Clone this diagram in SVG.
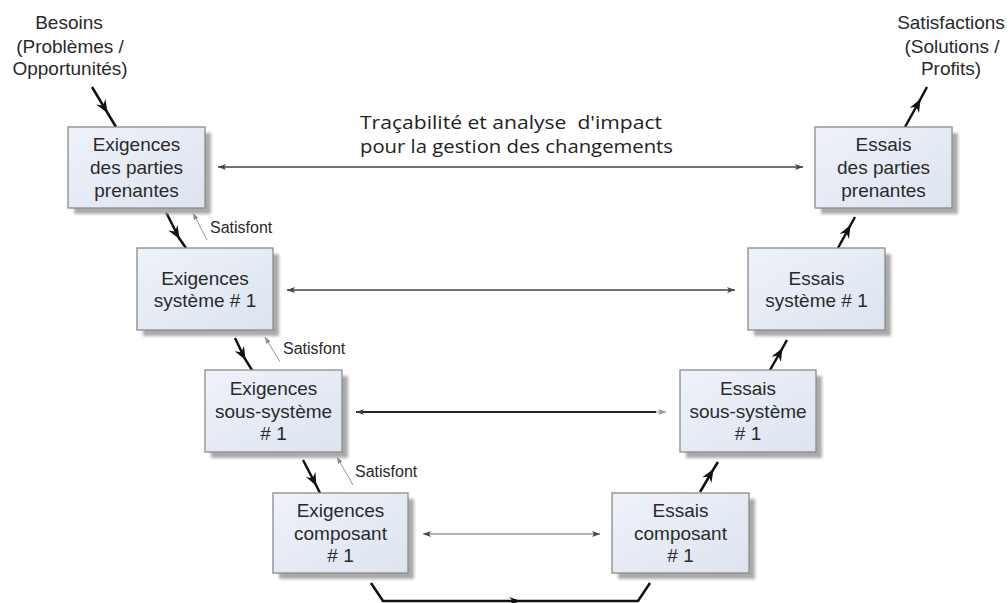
<svg xmlns="http://www.w3.org/2000/svg" width="1008" height="603" viewBox="0 0 1008 603">
<defs>
<linearGradient id="boxfill" x1="0" y1="0" x2="1" y2="1">
<stop offset="0" stop-color="#eef2f9"/>
<stop offset="1" stop-color="#dde4f0"/>
</linearGradient>
<filter id="blur" x="-10%" y="-10%" width="120%" height="120%"><feGaussianBlur stdDeviation="1.5"/></filter>
<marker id="mid" viewBox="0 0 12 10" refX="11" refY="5" markerWidth="13" markerHeight="11" markerUnits="userSpaceOnUse" orient="auto">
<path d="M0,0 L12,5 L0,10 L4,5 z" fill="#111"/>
</marker>
<marker id="tip" viewBox="0 0 8 6" refX="8" refY="3" markerWidth="8" markerHeight="6" markerUnits="userSpaceOnUse" orient="auto-start-reverse">
<path d="M0,0 L8,3 L0,6 L2,3 z" fill="#444"/>
</marker>
<marker id="tipg" viewBox="0 0 8 6" refX="8" refY="3" markerWidth="8" markerHeight="6" markerUnits="userSpaceOnUse" orient="auto-start-reverse">
<path d="M0,0 L8,3 L0,6 L2,3 z" fill="#999"/>
</marker>
<marker id="thin" viewBox="0 0 8 6" refX="8" refY="3" markerWidth="7" markerHeight="5" markerUnits="userSpaceOnUse" orient="auto-start-reverse">
<path d="M0,0 L8,3 L0,6 z" fill="#888"/>
</marker>
</defs>
<style>
.shadow{fill:#aaaaaa;filter:url(#blur)}
.box{fill:url(#boxfill);stroke:#8a8a8a;stroke-width:1.3}
.t{font-family:"Liberation Sans",Arial,sans-serif;font-size:19px;fill:#2a2a2a;text-anchor:middle}
.s{font-family:"Liberation Sans",Arial,sans-serif;font-size:16px;fill:#2a2a2a}
.title{font-family:"Open Sans",Lato,sans-serif;font-size:18.5px;fill:#222;white-space:pre}
.thick{fill:none;stroke:#111;stroke-width:2.5;marker-mid:url(#mid)}
.h{fill:none;stroke:#444;stroke-width:1.5;marker-start:url(#tip);marker-end:url(#tip)}
.sat{fill:none;stroke:#999;stroke-width:1;marker-start:url(#thin)}
</style>

<g id="connectors">
<polyline class="thick" points="92,87 107,112 116,127"/>
<polyline class="thick" points="166,212 179,238 186,248"/>
<polyline class="thick" points="235,338 245,359 252,370"/>
<polyline class="thick" points="303,460 316,485 320,493"/>
<polyline class="thick" points="700,492 713,470 718,462"/>
<polyline class="thick" points="770,370 782,349 787,340"/>
<polyline class="thick" points="838,248 850,226 855,217"/>
<polyline class="thick" points="905,127 920,100 927,87"/>
<polyline class="thick" points="371,583 383,601 520,601 638,601 650,583" style="marker-mid:none"/>
<path d="M509,597 L521,601 L509,605 L513,601 z" fill="#111"/>
<line class="h" x1="218" y1="167" x2="803" y2="167"/>
<line class="h" x1="287" y1="290" x2="735" y2="290"/>
<line class="h" x1="356" y1="412" x2="656" y2="412" style="stroke:#222;stroke-width:2;marker-end:none"/>
<line x1="656" y1="412" x2="666" y2="412" stroke="#999" stroke-width="1.2" marker-end="url(#tipg)"/>
<line class="h" x1="423" y1="534" x2="600" y2="534" style="stroke:#666;stroke-width:1.2"/>
<line class="sat" x1="193" y1="213" x2="207" y2="240"/>
<line class="sat" x1="265" y1="337" x2="280" y2="362"/>
<line class="sat" x1="337" y1="457" x2="353" y2="485"/>
</g>

<g id="labels">
<text class="t" x="69" y="29">Besoins</text>
<text class="t" x="70" y="53">(Problèmes /</text>
<text class="t" x="70" y="75">Opportunités)</text>
<text class="t" x="951" y="29">Satisfactions</text>
<text class="t" x="952" y="53">(Solutions /</text>
<text class="t" x="951" y="75">Profits)</text>
<text class="title" x="360" y="129" xml:space="preserve" textLength="302" lengthAdjust="spacingAndGlyphs">Traçabilité et analyse  d'impact</text>
<text class="title" x="360" y="153" textLength="313" lengthAdjust="spacingAndGlyphs">pour la gestion des changements</text>
<text class="s" x="210" y="233">Satisfont</text>
<text class="s" x="283" y="354">Satisfont</text>
<text class="s" x="355" y="477">Satisfont</text>
</g>

<g id="exig-pp">
<rect class="shadow" x="74" y="133" width="137" height="81"/>
<rect class="box" x="68" y="127" width="137" height="81"/>
<text class="t" x="136.5" y="151">Exigences</text>
<text class="t" x="136.5" y="174">des parties</text>
<text class="t" x="136.5" y="197">prenantes</text>
</g>
<g id="essais-pp">
<rect class="shadow" x="821" y="133" width="137" height="81"/>
<rect class="box" x="815" y="127" width="137" height="81"/>
<text class="t" x="883.5" y="151">Essais</text>
<text class="t" x="883.5" y="174">des parties</text>
<text class="t" x="883.5" y="197">prenantes</text>
</g>
<g id="exig-sys">
<rect class="shadow" x="143" y="254" width="136" height="82"/>
<rect class="box" x="137" y="248" width="136" height="82"/>
<text class="t" x="205" y="284.5">Exigences</text>
<text class="t" x="205" y="306.5">système # 1</text>
</g>
<g id="essais-sys">
<rect class="shadow" x="754" y="254" width="137" height="82"/>
<rect class="box" x="748" y="248" width="137" height="82"/>
<text class="t" x="816.5" y="284.5">Essais</text>
<text class="t" x="816.5" y="306.5">système # 1</text>
</g>
<g id="exig-sous">
<rect class="shadow" x="211" y="376" width="137" height="82"/>
<rect class="box" x="205" y="370" width="137" height="82"/>
<text class="t" x="273.5" y="394.5">Exigences</text>
<text class="t" x="273.5" y="417.5">sous-système</text>
<text class="t" x="273.5" y="439.5"># 1</text>
</g>
<g id="essais-sous">
<rect class="shadow" x="686" y="376" width="136" height="82"/>
<rect class="box" x="680" y="370" width="136" height="82"/>
<text class="t" x="748" y="394.5">Essais</text>
<text class="t" x="748" y="417.5">sous-système</text>
<text class="t" x="748" y="439.5"># 1</text>
</g>
<g id="exig-comp">
<rect class="shadow" x="279" y="499" width="135" height="80"/>
<rect class="box" x="273" y="493" width="135" height="80"/>
<text class="t" x="340.5" y="517">Exigences</text>
<text class="t" x="340.5" y="540">composant</text>
<text class="t" x="340.5" y="562"># 1</text>
</g>
<g id="essais-comp">
<rect class="shadow" x="618" y="499" width="137" height="80"/>
<rect class="box" x="612" y="493" width="137" height="80"/>
<text class="t" x="680.5" y="517">Essais</text>
<text class="t" x="680.5" y="540">composant</text>
<text class="t" x="680.5" y="562"># 1</text>
</g>
</svg>
